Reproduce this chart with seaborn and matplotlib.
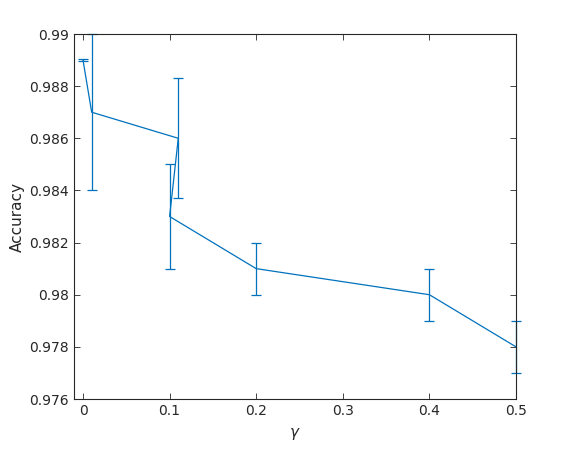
import matplotlib
matplotlib.use("Agg")
import matplotlib.pyplot as plt
import seaborn as sns
import pandas as pd

# data (plotted in the original order)
gamma = [0.0, 0.01, 0.11, 0.10, 0.2, 0.4, 0.5]
acc = [0.989, 0.987, 0.986, 0.983, 0.981, 0.980, 0.978]
err = [0.00005, 0.003, 0.0023, 0.002, 0.001, 0.001, 0.001]

xticks = [0, 0.1, 0.2, 0.3, 0.4, 0.5]
xtick_labels = ["0", "0.1", "0.2", "0.3", "0.4", "0.5"]
yticks = [0.976, 0.978, 0.98, 0.982, 0.984, 0.986, 0.988, 0.99]
ytick_labels = ["0.976", "0.978", "0.98", "0.982", "0.984", "0.986", "0.988", "0.99"]

df = pd.DataFrame({"gamma": gamma, "acc": acc, "err": err})

sns.set_style("ticks")
plt.rcParams['font.family'] = ['DejaVu Sans']

fig = plt.figure(figsize=(5.7, 4.5), dpi=100)
ax = fig.add_axes([74 / 570, 51 / 450, 442 / 570, 365 / 450])

blue = "#0072BD"
sns.lineplot(data=df, x="gamma", y="acc", sort=False, estimator=None,
             color=blue, linewidth=0.9, ax=ax)
eb = ax.errorbar(df["gamma"], df["acc"], yerr=df["err"], fmt="none",
                 ecolor=blue, elinewidth=0.9, capsize=3.3, capthick=0.9)
# matlab does not clip the bars at the box
for artist in eb.get_children():
    artist.set_clip_on(False)

ax.set_xlim(-0.0104, 0.5)
ax.set_ylim(0.976, 0.99)
ax.set_xticks(xticks)
ax.set_xticklabels(xtick_labels)
ax.set_yticks(yticks)
ax.set_yticklabels(ytick_labels)

ax.tick_params(direction="in", top=True, right=True, length=4, width=0.6,
               labelsize=10, labelcolor="#262626", color="#262626")
for s in ax.spines.values():
    s.set_visible(True)
    s.set_linewidth(0.8)
    s.set_color("#262626")

ax.set_xlabel(r"$\gamma$", fontsize=11, color="#262626", labelpad=6)
ax.set_ylabel("Accuracy", fontsize=11, color="#262626", labelpad=3)

fig.savefig("out.png", dpi=100)
